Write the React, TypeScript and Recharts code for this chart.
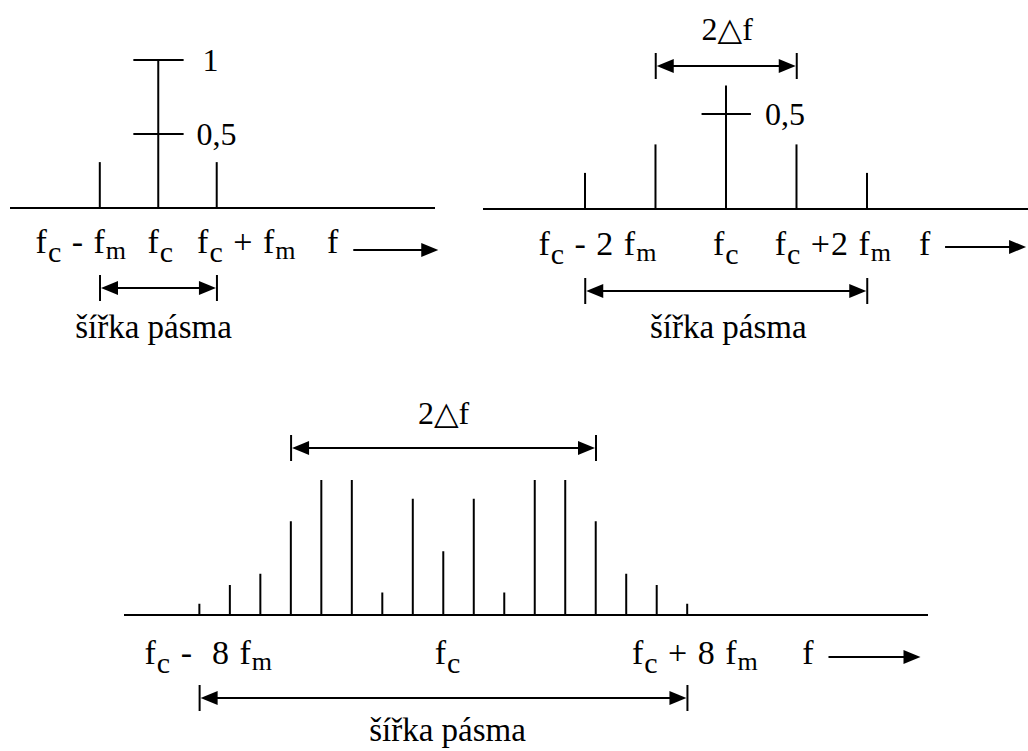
import React from 'react';
import { ComposedChart, Bar, XAxis, YAxis, ReferenceLine } from 'recharts';

// ---------- Panel 1 (AM-like: fc ± fm), x in units of fm relative to fc ----------
const p1Harmonics = [-1, 0, 1];
const p1Amplitudes = [0.31, 1, 0.31];
const p1Domain: [number, number] = [-2.54, 4.73];
const p1TickValues = [-1.32, 0.04, 1.51, 2.99];
const p1TickLabels = ['f_c - f_m', 'f_c', 'f_c + f_m', 'f'];
const p1LevelValues = [1, 0.5];
const p1LevelLabels = ['1', '0,5'];
const p1Bandwidth = [-1, 1];
const p1BandLabel = 'šířka pásma';

// ---------- Panel 2 (fc ± 2fm) ----------
const p2Harmonics = [-2, -1, 0, 1, 2];
const p2Amplitudes = [0.19, 0.34, 0.65, 0.34, 0.19];
const p2Domain: [number, number] = [-3.45, 4.28];
const p2TickValues = [-1.82, 0, 1.52, 2.82];
const p2TickLabels = ['f_c - 2 f_m', 'f_c', 'f_c +2 f_m', 'f'];
const p2LevelValues = [0.5];
const p2LevelLabels = ['0,5'];
const p2Deviation = [-1, 1];
const p2DeviationLabel = '2△f';
const p2Bandwidth = [-2, 2];
const p2BandLabel = 'šířka pásma';

// ---------- Panel 3 (fc ± 8fm) ----------
const p3Harmonics = [-8, -7, -6, -5, -4, -3, -2, -1, 0, 1, 2, 3, 4, 5, 6, 7, 8];
const p3Amplitudes = [0.03, 0.08, 0.11, 0.25, 0.36, 0.36, 0.06, 0.31, 0.17, 0.31, 0.06, 0.36, 0.36, 0.25, 0.11, 0.08, 0.03];
const p3Domain: [number, number] = [-10.48, 15.89];
const p3TickValues = [-7.7, 0.15, 8.26, 11.97];
const p3TickLabels = ['f_c -  8 f_m', 'f_c', 'f_c + 8 f_m', 'f'];
const p3Deviation = [-5, 5];
const p3DeviationLabel = '2△f';
const p3Bandwidth = [-8, 8];
const p3BandLabel = 'šířka pásma';

const FONT = "'Liberation Serif', 'DejaVu Serif', 'Times New Roman', serif";
const TXT: React.CSSProperties = { fontFamily: FONT, fontSize: 32, whiteSpace: 'pre' };
const TICK_TXT: React.CSSProperties = { fontFamily: FONT, fontSize: 34, whiteSpace: 'pre', letterSpacing: 1 };
const BAND_TXT: React.CSSProperties = { fontFamily: FONT, fontSize: 33, whiteSpace: 'pre' };

const toRows = (xs: number[], ys: number[]) => xs.map((x, i) => ({ x, a: ys[i] }));

function renderRich(label: string) {
  const parts: React.ReactNode[] = [];
  let shift = 0;
  let buf = '';
  let key = 0;
  let i = 0;
  while (i < label.length) {
    if (label[i] === '_') {
      if (buf) {
        parts.push(<tspan key={key++} dy={-shift}>{buf}</tspan>);
        shift = 0;
        buf = '';
      }
      const ch = label[i + 1];
      const sub = ch === 'c' ? { size: 30, dy: 9 } : { size: 26, dy: 6 };
      parts.push(
        <tspan key={key++} style={{ fontSize: sub.size }} dy={sub.dy - shift}>
          {ch}
        </tspan>
      );
      shift = sub.dy;
      i += 2;
    } else {
      buf += label[i];
      i++;
    }
  }
  if (buf) parts.push(<tspan key={key++} dy={-shift}>{buf}</tspan>);
  return parts;
}

const AxisTick = (props: any) => {
  const { x, y, payload, ticks, labels, textDy, arrowDy, arrowStart, arrowEnd } = props;
  const idx = ticks.indexOf(payload.value);
  const label = labels[idx] ?? '';
  const isLast = idx === ticks.length - 1;
  const ay = y + arrowDy;
  return (
    <g>
      <text x={x} y={y + textDy} textAnchor="middle" fill="#000" style={TICK_TXT}>
        {renderRich(label)}
      </text>
      {isLast && (
        <g>
          <line x1={x + arrowStart} y1={ay} x2={x + arrowEnd - 14} y2={ay} stroke="#000" strokeWidth={2} />
          <polygon
            points={`${x + arrowEnd},${ay} ${x + arrowEnd - 17},${ay - 7} ${x + arrowEnd - 17},${ay + 7}`}
            fill="#000"
          />
        </g>
      )}
    </g>
  );
};

const DimArrow = (props: any) => {
  const { x1, x2, y1, dy, text, textDy, textDx } = props;
  const lx = Math.min(x1, x2);
  const rx = Math.max(x1, x2);
  const y = y1 + dy;
  const style = text.startsWith('š') ? BAND_TXT : TXT;
  return (
    <g>
      <line x1={lx} y1={y - 13} x2={lx} y2={y + 13} stroke="#000" strokeWidth={2} />
      <line x1={rx} y1={y - 13} x2={rx} y2={y + 13} stroke="#000" strokeWidth={2} />
      <line x1={lx + 12} y1={y} x2={rx - 12} y2={y} stroke="#000" strokeWidth={2} />
      <polygon points={`${lx + 1},${y} ${lx + 18},${y - 7} ${lx + 18},${y + 7}`} fill="#000" />
      <polygon points={`${rx - 1},${y} ${rx - 18},${y - 7} ${rx - 18},${y + 7}`} fill="#000" />
      <text x={(lx + rx) / 2 + textDx} y={y + textDy} textAnchor="middle" fill="#000" style={style}>
        {text}
      </text>
    </g>
  );
};

const LevelLabel = (props: any) => {
  const { viewBox, value, offset } = props;
  const x = viewBox.x + viewBox.width + offset;
  const y = viewBox.y + viewBox.height / 2 + 11;
  return (
    <text x={x} y={y} fill="#000" style={TXT}>
      {value}
    </text>
  );
};

type PanelProps = {
  xs: number[];
  ys: number[];
  domain: [number, number];
  yMax: number;
  margin: { top: number; right: number; bottom: number; left: number };
  tickValues: number[];
  tickLabels: string[];
  textDy: number;
  arrowDy: number;
  arrowStart: number;
  arrowEnd: number;
  levels?: { values: number[]; labels: string[]; half: number; offsets: number[] };
  dims: { range: number[]; dy: number; text: string; textDy: number; textDx: number }[];
};

const Panel = (p: PanelProps) => (
  <div style={{ position: 'absolute', left: 0, top: 0 }}>
    <ComposedChart width={1028} height={751} data={toRows(p.xs, p.ys)} margin={p.margin}>
      <XAxis
        dataKey="x"
        type="number"
        domain={p.domain}
        allowDataOverflow
        ticks={p.tickValues}
        interval={0}
        height={30}
        tickLine={false}
        tickSize={0}
        tickMargin={0}
        axisLine={{ stroke: '#000', strokeWidth: 2 }}
        tick={(tp: any) => (
          <AxisTick
            {...tp}
            ticks={p.tickValues}
            labels={p.tickLabels}
            textDy={p.textDy}
            arrowDy={p.arrowDy}
            arrowStart={p.arrowStart}
            arrowEnd={p.arrowEnd}
          />
        )}
      />
      <YAxis hide width={0} type="number" domain={[0, p.yMax]} allowDataOverflow />
      <Bar dataKey="a" barSize={2} fill="#000" isAnimationActive={false} />
      {p.levels &&
        p.levels.values.map((v, i) => (
          <ReferenceLine
            key={`lvl${i}`}
            segment={[
              { x: -p.levels!.half, y: v },
              { x: p.levels!.half, y: v },
            ]}
            stroke="#000"
            strokeWidth={2}
            ifOverflow="visible"
            label={(lp: any) => (
              <LevelLabel {...lp} value={p.levels!.labels[i]} offset={p.levels!.offsets[i]} />
            )}
          />
        ))}
      {p.dims.map((d, i) => (
        <ReferenceLine
          key={`dim${i}`}
          segment={[
            { x: d.range[0], y: 0 },
            { x: d.range[1], y: 0 },
          ]}
          ifOverflow="visible"
          shape={(sp: any) => (
            <DimArrow {...sp} dy={d.dy} text={d.text} textDy={d.textDy} textDx={d.textDx} />
          )}
        />
      ))}
    </ComposedChart>
  </div>
);

export default function App() {
  return (
    <div style={{ position: 'absolute', left: 0, top: 0, width: 1028, height: 751, background: '#fff' }}>
      <Panel
        xs={p1Harmonics}
        ys={p1Amplitudes}
        domain={p1Domain}
        yMax={1}
        margin={{ top: 60, right: 593, bottom: 513, left: 10 }}
        tickValues={p1TickValues}
        tickLabels={p1TickLabels}
        textDy={45}
        arrowDy={42}
        arrowStart={20}
        arrowEnd={105}
        levels={{ values: p1LevelValues, labels: p1LevelLabels, half: 0.43, offsets: [19, 13] }}
        dims={[{ range: p1Bandwidth, dy: 80, text: p1BandLabel, textDy: 50, textDx: -5 }]}
      />
      <Panel
        xs={p2Harmonics}
        ys={p2Amplitudes}
        domain={p2Domain}
        yMax={0.8}
        margin={{ top: 57, right: 0, bottom: 512, left: 483 }}
        tickValues={p2TickValues}
        tickLabels={p2TickLabels}
        textDy={46}
        arrowDy={38}
        arrowStart={20}
        arrowEnd={101}
        levels={{ values: p2LevelValues, labels: p2LevelLabels, half: 0.35, offsets: [14] }}
        dims={[
          { range: p2Deviation, dy: -143, text: p2DeviationLabel, textDy: -26, textDx: 1 },
          { range: p2Bandwidth, dy: 82, text: p2BandLabel, textDy: 47, textDx: 2 },
        ]}
      />
      <Panel
        xs={p3Harmonics}
        ys={p3Amplitudes}
        domain={p3Domain}
        yMax={0.4}
        margin={{ top: 465, right: 100, bottom: 106, left: 124 }}
        tickValues={p3TickValues}
        tickLabels={p3TickLabels}
        textDy={49}
        arrowDy={42}
        arrowStart={20}
        arrowEnd={112}
        dims={[
          { range: p3Deviation, dy: -167, text: p3DeviationLabel, textDy: -24, textDx: 0 },
          { range: p3Bandwidth, dy: 83, text: p3BandLabel, textDy: 43, textDx: 4 },
        ]}
      />
    </div>
  );
}
